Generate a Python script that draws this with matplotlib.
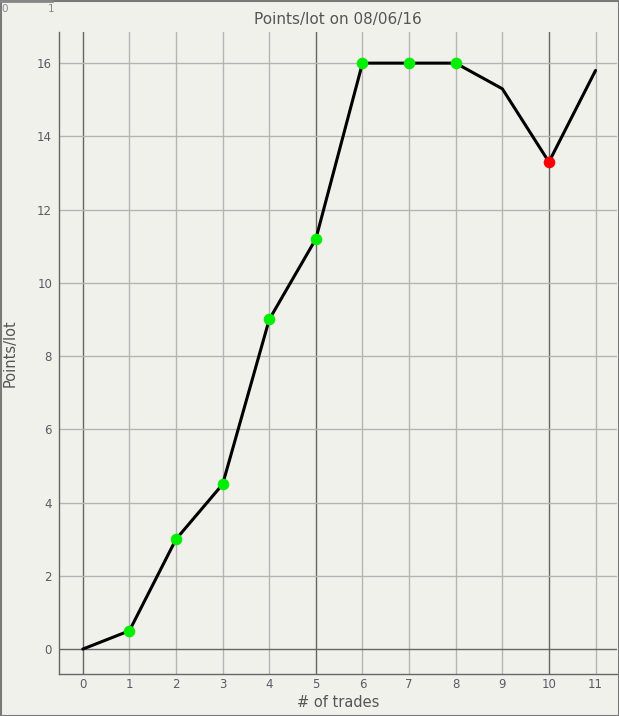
import matplotlib
matplotlib.use("Agg")
import matplotlib.pyplot as plt
from matplotlib.lines import Line2D
from matplotlib.patches import Rectangle

trades = [0, 1, 2, 3, 4, 5, 6, 7, 8, 9, 10, 11]
points = [0, 0.5, 3.0, 4.5, 9.0, 11.2, 16.0, 16.0, 16.0, 15.3, 13.3, 15.8]
green_idx = [1, 2, 3, 4, 5, 6, 7, 8]
red_idx = [10]
xticks = list(range(0, 12))
yticks = list(range(0, 17, 2))

W, H = 619, 716
fig = plt.figure(figsize=(W / 100, H / 100), dpi=100)
bg = '#f1f1ec'
fig.patch.set_facecolor(bg)
ax = fig.add_axes([59 / W, 1 - 674 / H, (617 - 59) / W, (674 - 32) / H])
ax.set_facecolor(bg)

ax.set_xlim(-0.51, 11.46)
ax.set_ylim(-0.68, 16.85)
ax.set_xticks(xticks)
ax.set_yticks(yticks)

for x in xticks:
    dark = x in (0, 5, 10)
    ax.axvline(x, color='#666666' if dark else '#b4b4b4', lw=1.0, zorder=1)
for y in yticks:
    dark = y == 0
    ax.axhline(y, color='#666666' if dark else '#b4b4b4', lw=1.0, zorder=1)

ax.plot(trades, points, color='black', lw=2.2, zorder=3, solid_capstyle='round')
ax.scatter([trades[i] for i in green_idx], [points[i] for i in green_idx],
           s=70, color='#00ee00', zorder=4, linewidths=0)
ax.scatter([trades[i] for i in red_idx], [points[i] for i in red_idx],
           s=70, color='#ff0000', zorder=4, linewidths=0)

for s in ['top', 'right']:
    ax.spines[s].set_visible(False)
for s in ['left', 'bottom']:
    ax.spines[s].set_color('#666666')
    ax.spines[s].set_linewidth(1.0)

tick_color = '#5a5a66'
ax.tick_params(axis='x', length=0, labelsize=8.5, colors=tick_color, pad=3)
ax.tick_params(axis='y', length=0, labelsize=8.5, colors=tick_color, pad=5)
ax.set_title('Points/lot on 08/06/16', fontsize=11, color='#555555', pad=6)
ax.set_xlabel('# of trades', fontsize=10.5, color='#555555', labelpad=3)
ax.set_ylabel('Points/lot', fontsize=10.5, color='#555555', labelpad=14)

# top-left artifact
fig.text(1 / W, 1 - 9 / H, '0', fontsize=7.5, color='#888888', va='center', ha='left')
fig.text(51 / W, 1 - 9 / H, '1', fontsize=7.5, color='#888888', va='center', ha='center')
fig.add_artist(Line2D([0, 52 / W], [1 - 1 / H, 1 - 1 / H], color='#888888', lw=2,
                      transform=fig.transFigure))
# figure border
fig.add_artist(Rectangle((0.5 / W, 0.5 / H), 1 - 1 / W, 1 - 1 / H, fill=False,
                         edgecolor='#7a7a7a', lw=1.5, transform=fig.transFigure))

fig.savefig('out.png', dpi=100, facecolor=bg)
